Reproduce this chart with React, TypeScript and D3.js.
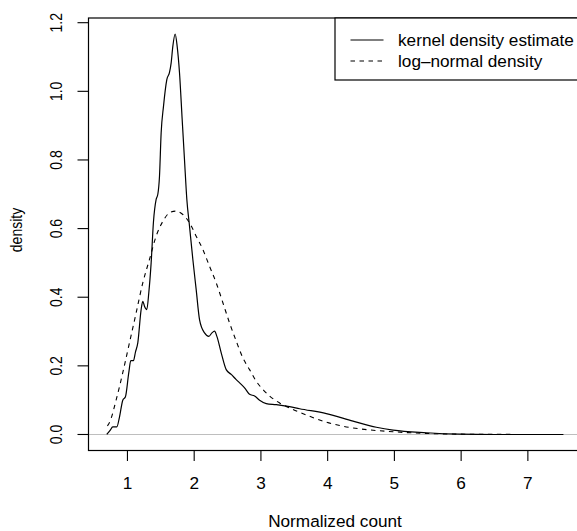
import * as d3 from 'd3'

// kernel density estimate
const kdeX = [0.69, 0.74, 0.78, 0.84, 0.88, 0.93, 0.97, 1.02, 1.05, 1.09, 1.12, 1.155, 1.205, 1.23, 1.255, 1.29, 1.32, 1.355, 1.39, 1.43, 1.455, 1.48, 1.505, 1.54, 1.59, 1.63, 1.655, 1.68, 1.715, 1.745, 1.78, 1.82, 1.855, 1.89, 1.93, 1.98, 2.03, 2.08, 2.155, 2.22, 2.265, 2.305, 2.34, 2.405, 2.48, 2.555, 2.63, 2.705, 2.755, 2.83, 2.905, 2.98, 3.08, 3.23, 3.43, 3.58, 3.98, 4.38, 4.73, 4.98, 5.48, 5.98, 6.5, 7.53]
const kdeY = [0, 0.012, 0.022, 0.022, 0.05, 0.1, 0.11, 0.18, 0.215, 0.215, 0.24, 0.267, 0.364, 0.388, 0.374, 0.364, 0.413, 0.5, 0.62, 0.685, 0.7, 0.752, 0.879, 0.956, 1.034, 1.055, 1.083, 1.131, 1.167, 1.131, 1.054, 0.918, 0.8, 0.685, 0.607, 0.51, 0.422, 0.335, 0.296, 0.286, 0.296, 0.301, 0.286, 0.238, 0.189, 0.175, 0.16, 0.146, 0.136, 0.117, 0.112, 0.1, 0.09, 0.087, 0.081, 0.075, 0.061, 0.039, 0.021, 0.0125, 0.005, 0.001, 0, 0]

// fitted log-normal density
const lnX = [0.7, 0.74, 0.83, 0.93, 1.03, 1.13, 1.23, 1.33, 1.43, 1.53, 1.63, 1.72, 1.83, 1.93, 2.03, 2.13, 2.23, 2.33, 2.43, 2.53, 2.63, 2.73, 2.83, 2.93, 3.03, 3.13, 3.28, 3.48, 3.73, 3.98, 4.23, 4.48, 4.98, 5.48, 5.98, 6.5, 7.53]
const lnY = [0.025, 0.039, 0.1, 0.18, 0.267, 0.354, 0.442, 0.51, 0.578, 0.621, 0.646, 0.651, 0.641, 0.617, 0.578, 0.539, 0.49, 0.442, 0.384, 0.325, 0.272, 0.223, 0.189, 0.155, 0.131, 0.112, 0.092, 0.073, 0.053, 0.036, 0.024, 0.0165, 0.008, 0.003, 0.001, 0.0003, 0]

const xTicks = [1, 2, 3, 4, 5, 6, 7]
const yTicks = [0, 0.2, 0.4, 0.6, 0.8, 1.0, 1.2]
const legendLabels = ['kernel density estimate', 'log–normal density']

const W = 577
const H = 531
const plot = { left: 88.5, right: 581.5, top: 18, bottom: 450.5 }
const font = 'Liberation Sans, Arial, Helvetica, sans-serif'
const fs = 17.2   // horizontal text
const fsRot = 14  // rotated text comes out shorter in the picture
const sx = 1.18   // ...but just as thick

// R style: data range widened by 4% on each side
const pad = (lo: number, hi: number) => {
  const d = (hi - lo) * 0.04
  return [lo - d, hi + d]
}

export default function App() {
  const x = d3.scaleLinear()
    .domain(pad(d3.min(kdeX)!, d3.max(kdeX)!))
    .range([plot.left, plot.right])
  const y = d3.scaleLinear()
    .domain(pad(0, d3.max(kdeY)!))
    .range([plot.bottom, plot.top])

  const kdePath = d3.line<number>()
    .curve(d3.curveMonotoneX)
    .x(d => x(d)).y((_, i) => y(kdeY[i]))(kdeX)
  const lnPath = d3.line<number>()
    .curve(d3.curveMonotoneX)
    .x(d => x(d)).y((_, i) => y(lnY[i]))(lnX)

  const y0 = y(0)

  return (
    <svg width={W} height={H} style={{ position: 'absolute', left: 0, top: 0, background: '#fff' }}
      fontFamily={font} fontSize={fs}>
      {/* zero line */}
      <line x1={plot.left} x2={plot.right} y1={y0} y2={y0} stroke="#bebebe" strokeWidth={1.2} />

      <path d={lnPath ?? ''} fill="none" stroke="#000" strokeWidth={1.1} strokeDasharray="4.5,4.5" />
      <path d={kdePath ?? ''} fill="none" stroke="#000" strokeWidth={1.2} />

      {/* box */}
      <rect x={plot.left} y={plot.top} width={plot.right - plot.left} height={plot.bottom - plot.top}
        fill="none" stroke="#000" strokeWidth={1.2} />

      {/* x axis */}
      {xTicks.map(t => (
        <g key={t}>
          <line x1={x(t)} x2={x(t)} y1={plot.bottom} y2={plot.bottom + 10.5} stroke="#000" strokeWidth={1.1} />
          <text x={x(t)} y={489} textAnchor="middle">{t}</text>
        </g>
      ))}
      <text x={335} y={527} textAnchor="middle">Normalized count</text>

      {/* y axis */}
      {yTicks.map(t => (
        <g key={t}>
          <line x1={plot.left} x2={plot.left - 11} y1={y(t)} y2={y(t)} stroke="#000" strokeWidth={1.1} />
          <text transform={`translate(62,${y(t)}) scale(${sx},1) rotate(-90)`} textAnchor="middle" fontSize={fsRot}>
            {d3.format('.1f')(t)}
          </text>
        </g>
      ))}
      <text transform={`translate(22.3,230) scale(${sx},1) rotate(-90)`} textAnchor="middle" fontSize={fsRot}>density</text>

      {/* legend */}
      <rect x={335} y={plot.top} width={plot.right - 335} height={80 - plot.top}
        fill="#fff" stroke="#000" strokeWidth={1.2} />
      {legendLabels.map((lab, i) => (
        <g key={lab}>
          <line x1={350.5} x2={383.5} y1={40 + i * 21} y2={40 + i * 21} stroke="#000"
            strokeWidth={1.2} strokeDasharray={i === 1 ? '4.5,4.5' : undefined} />
          <text x={398} y={46.3 + i * 21}>{lab}</text>
        </g>
      ))}
    </svg>
  )
}
